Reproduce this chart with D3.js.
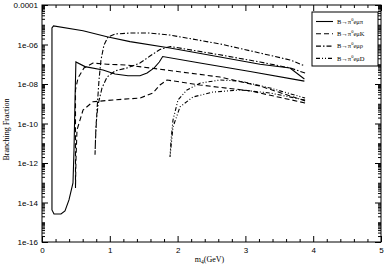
<!DOCTYPE html>
<html>
<head>
<meta charset="utf-8">
<script src="https://cdn.jsdelivr.net/npm/d3@7"></script>
<style>
  body { margin: 0; background: #fff; }
  svg { font-family: "Liberation Serif", "DejaVu Serif", serif; }
  .axis path, .axis line { stroke: #000; stroke-width: 1; }
  .axis text { font-size: 8px; fill: #000; }
  .curve { fill: none; stroke: #000; stroke-width: 1.1; }
</style>
</head>
<body>
<script>
// Chart data (m4 in GeV, branching fraction)
var piMass = [3.87, 3.07, 2.33, 1.78, 1.73, 1.655, 1.55, 1.445, 1.268, 1.077, 0.90, 0.634, 0.50,
              0.487, 0.472, 0.457, 0.398, 0.339, 0.28, 0.177, 0.147, 0.147, 0.17, 0.605, 0.959,
              1.298, 1.888, 2.625, 3.215, 3.658, 3.87];
var piBF = [1.4e-8, 4.3e-8, 1.15e-7, 2.45e-7, 1.3e-7, 6.5e-8, 3.6e-8, 2.6e-8, 2.6e-8, 3.2e-8, 5.1e-8, 7.6e-8, 1.3e-7,
            1.55e-9, 4.6e-12, 9.8e-14, 1.35e-14, 3.7e-15, 2.6e-15, 2.6e-15, 4.2e-15, 6.9e-6, 8.7e-6, 5.0e-6, 2.45e-6,
            1.4e-6, 6.6e-7, 2.35e-7, 1.0e-7, 6.5e-8, 1.8e-8];

var kMass = [3.88, 3.068, 2.33, 1.844, 1.74, 1.637, 1.445, 1.047, 0.752, 0.605, 0.516, 0.501, 0.494,
             0.494, 0.494, 0.531, 0.619, 0.752, 0.959, 1.254, 1.593, 2.625, 3.215, 3.88];
var kBF = [1.1e-9, 4.5e-9, 8.9e-9, 1.6e-8, 8.9e-9, 3.5e-9, 1.95e-9, 1.55e-9, 1.26e-9, 4.8e-10, 4.7e-11, 1.4e-12, 5.4e-14,
           1.4e-13, 5.0e-9, 2.0e-8, 6.5e-8, 1.15e-7, 1.0e-7, 9.1e-8, 6.5e-8, 2.25e-8, 7.9e-9, 1.4e-9];

var rhoMass = [3.88, 3.66, 3.215, 2.625, 1.895, 1.74, 1.593, 1.445, 1.254, 1.077, 0.959, 0.885, 0.826, 0.796, 0.782,
               0.789, 0.811, 0.841, 0.87, 0.914, 0.973, 1.077, 1.298, 1.593, 1.888, 2.625, 3.215, 3.658, 3.88];
var rhoBF = [3.6e-8, 6.5e-8, 1.3e-7, 3.0e-7, 7.9e-7, 5.6e-7, 2.6e-7, 1.15e-7, 6.5e-8, 4.6e-8, 2.25e-8, 6.3e-9, 8.7e-10, 8.3e-11, 2.6e-12,
             1.45e-11, 4.8e-10, 1.6e-8, 1.65e-7, 9.3e-7, 2.4e-6, 3.4e-6, 3.8e-6, 3.8e-6, 3.0e-6, 1.07e-6, 3.7e-7, 1.65e-7, 8.1e-8];

var dMass = [3.88, 3.363, 2.92, 2.522, 2.227, 2.035, 1.932, 1.888,
             1.903, 1.932, 2.006, 2.139, 2.33, 2.625, 2.92, 3.363, 3.88];
var dBF = [1.55e-9, 3.5e-9, 5.0e-9, 3.9e-9, 2.2e-9, 6.9e-10, 6.6e-11, 2.0e-12,
           1.45e-11, 1.5e-10, 1.55e-9, 5.0e-9, 1.1e-8, 1.6e-8, 1.4e-8, 6.3e-9, 1.95e-9];

var seriesNames = ["B\u2192\u03c0|e\u03bc\u03c0", "B\u2192\u03c0|e\u03bcK", "B\u2192\u03c0|e\u03bc\u03c1", "B\u2192\u03c0|e\u03bcD"];
var xTicks = [0, 1, 2, 3, 4, 5];
var yTicks = [1e-16, 1e-14, 1e-12, 1e-10, 1e-8, 1e-6, 1e-4];
var yTickLabels = ["1e-16", "1e-14", "1e-12", "1e-10", "1e-08", "1e-06", "0.0001"];

var dashes = ["none", "5,3", "5,2,1.5,2", "4,2,1,2,1,2"];

var margin = {top: 5, right: 4, bottom: 25, left: 42},
    width = 385 - margin.left - margin.right,
    height = 267 - margin.top - margin.bottom;

var svg = d3.select("body").append("svg")
    .attr("width", 385)
    .attr("height", 267)
  .append("g")
    .attr("transform", "translate(" + margin.left + "," + margin.top + ")");

var x = d3.scaleLinear().domain([0, 5]).range([0, width]);
var y = d3.scaleLog().domain([1e-16, 1e-4]).range([height, 0]);

// minor tick values
var xMinor = d3.range(0, 5.01, 0.2).filter(function(v) { return Math.abs(v - Math.round(v)) > 1e-6; });
var yMinor = [];
for (var e = -16; e < -4; e++) {
  for (var k = 1; k < 10; k++) {
    if (k === 1 && e % 2 === 0) continue;
    yMinor.push(k * Math.pow(10, e));
  }
}

function addAxis(axis, tr, cls) {
  var g = svg.append("g").attr("class", "axis " + cls);
  if (tr) g.attr("transform", tr);
  g.call(axis);
  return g;
}

// bottom / top
addAxis(d3.axisBottom(x).tickValues(xTicks).tickSize(-6).tickPadding(5).tickFormat(d3.format("d")), "translate(0," + height + ")", "xb");
addAxis(d3.axisBottom(x).tickValues(xMinor).tickSize(-3).tickFormat(""), "translate(0," + height + ")", "xbm");
addAxis(d3.axisTop(x).tickValues(xTicks).tickSize(-6).tickFormat(""), null, "xt");
addAxis(d3.axisTop(x).tickValues(xMinor).tickSize(-3).tickFormat(""), null, "xtm");

// left / right
addAxis(d3.axisLeft(y).tickValues(yTicks).tickSize(-6).tickPadding(4)
  .tickFormat(function(d, i) { return yTickLabels[i]; }), null, "yl");
addAxis(d3.axisLeft(y).tickValues(yMinor).tickSize(-3).tickFormat(""), null, "ylm");
addAxis(d3.axisRight(y).tickValues(yTicks).tickSize(-6).tickFormat(""), "translate(" + width + ",0)", "yr");
addAxis(d3.axisRight(y).tickValues(yMinor).tickSize(-3).tickFormat(""), "translate(" + width + ",0)", "yrm");

svg.selectAll(".axis .domain").remove();
svg.append("rect")
    .attr("width", width)
    .attr("height", height)
    .attr("fill", "none")
    .attr("stroke", "#000");

// curves
var line = d3.line()
    .x(function(d) { return x(d[0]); })
    .y(function(d) { return y(d[1]); });

var curves = [
  d3.zip(piMass, piBF),
  d3.zip(kMass, kBF),
  d3.zip(rhoMass, rhoBF),
  d3.zip(dMass, dBF)
];

svg.selectAll(".curve")
    .data(curves)
  .enter().append("path")
    .attr("class", "curve")
    .attr("d", line)
    .attr("stroke-dasharray", function(d, i) { return dashes[i]; });

// legend
var legend = svg.append("g").attr("transform", "translate(" + (width - 69) + ",7)");
legend.append("rect")
    .attr("width", 66)
    .attr("height", 54)
    .attr("fill", "#fff")
    .attr("stroke", "#000");

var item = legend.selectAll(".item")
    .data(seriesNames)
  .enter().append("g")
    .attr("transform", function(d, i) { return "translate(0," + (9.5 + i * 12.3) + ")"; });

item.append("line")
    .attr("x1", 4).attr("x2", 21)
    .attr("stroke", "#000")
    .attr("stroke-width", 1.1)
    .attr("stroke-dasharray", function(d, i) { return dashes[i]; });

var txt = item.append("text")
    .attr("x", 25)
    .attr("dy", "0.33em")
    .style("font-size", "6.5px");
txt.append("tspan").text(function(d) { return d.split("|")[0]; });
txt.append("tspan").attr("dy", -3).style("font-size", "4.5px").text("0");
txt.append("tspan").attr("dy", 3).text(function(d) { return d.split("|")[1]; });

// axis titles
var xl = svg.append("text")
    .attr("x", x(2.5) - 2)
    .attr("y", height + 20)
    .attr("text-anchor", "middle")
    .style("font-size", "8px");
xl.append("tspan").text("m");
xl.append("tspan").attr("dy", 2).style("font-size", "5.5px").text("4");
xl.append("tspan").attr("dy", -2).text("(GeV)");

svg.append("text")
    .attr("transform", "translate(" + (-33) + "," + (height / 2 + 6) + ") rotate(-90)")
    .attr("text-anchor", "middle")
    .style("font-size", "8px")
    .text("Branching Fraction");
</script>
</body>
</html>
